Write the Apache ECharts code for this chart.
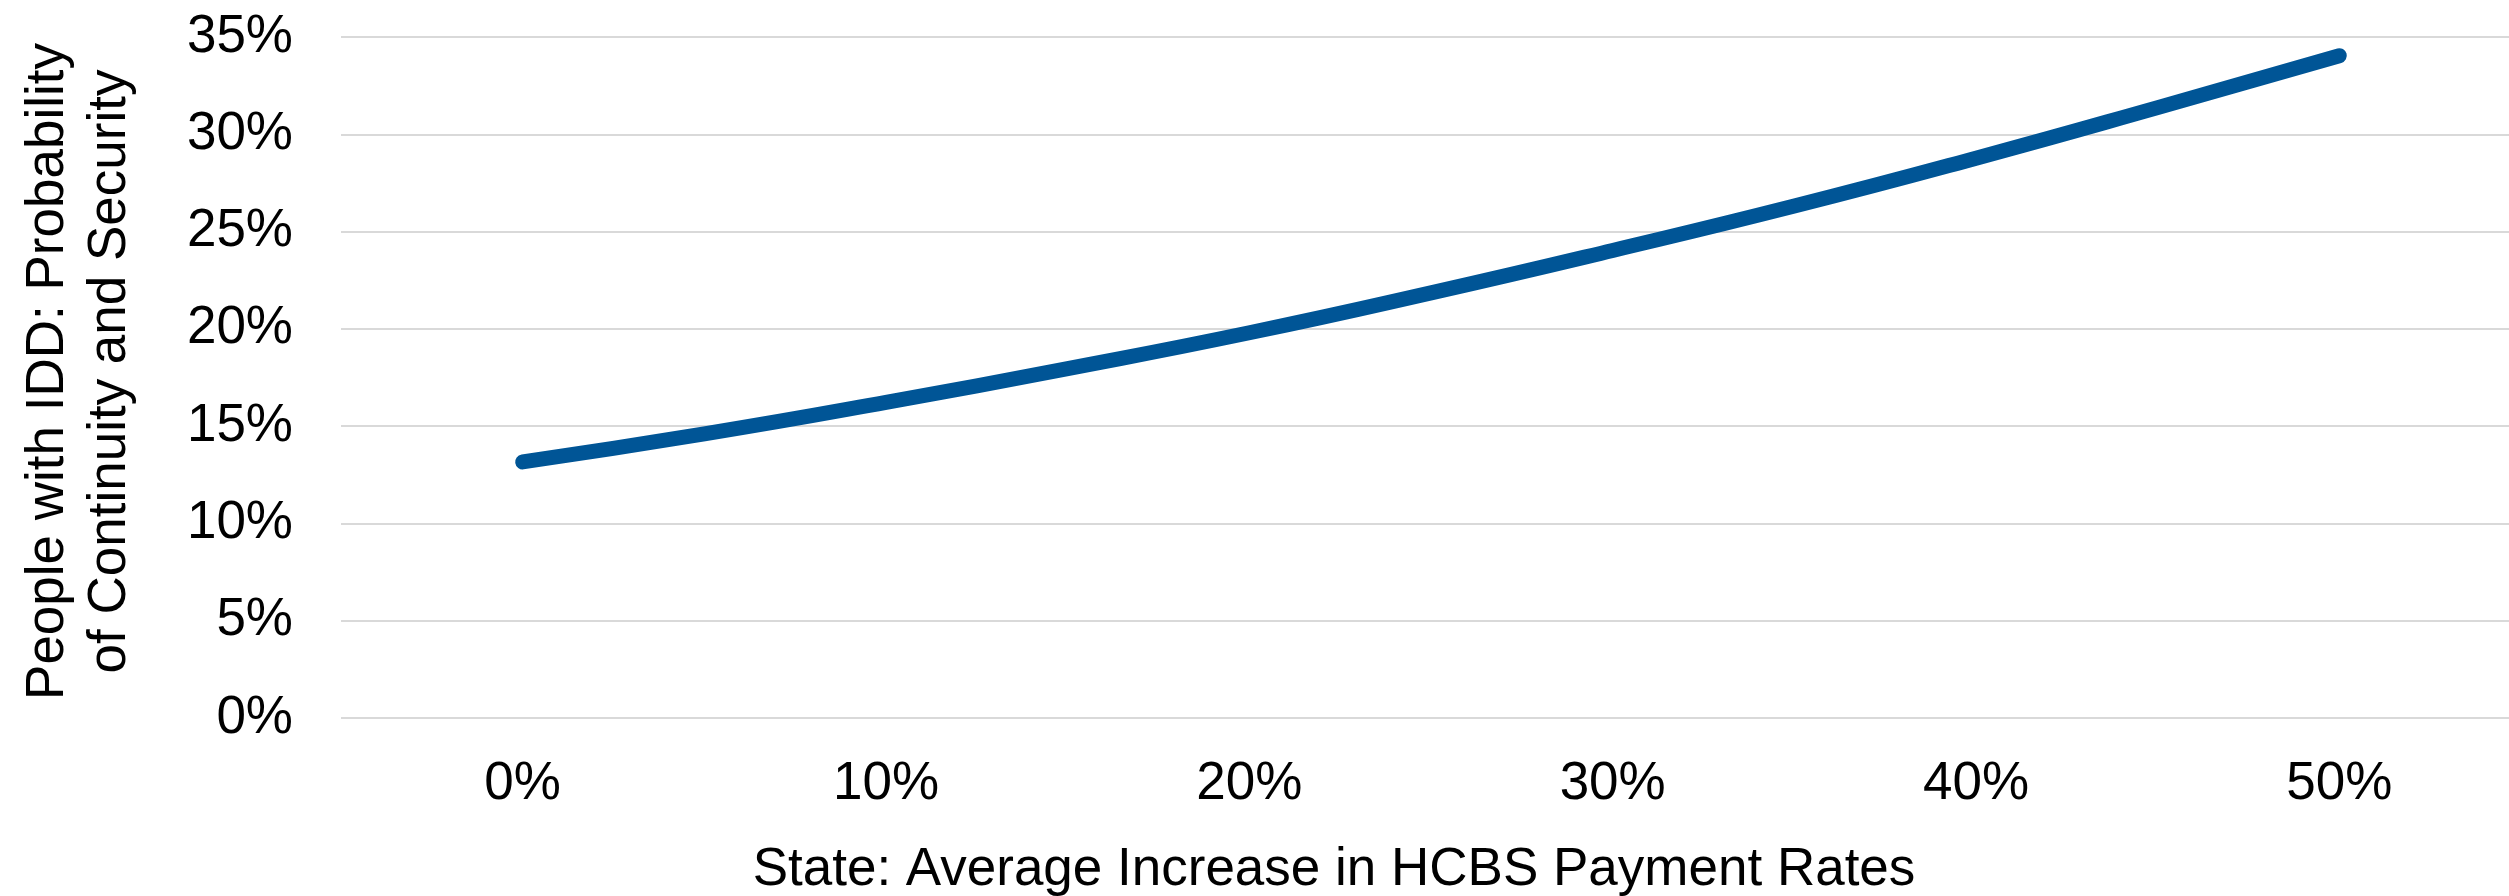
<!DOCTYPE html>
<html>
<head>
<meta charset="utf-8">
<script src="https://cdn.jsdelivr.net/npm/echarts@6/dist/echarts.min.js"></script>
<style>
html, body { margin: 0; padding: 0; background: #ffffff; }
#chart { width: 2509px; height: 896px; }
</style>
</head>
<body>
<div id="chart"></div>
<script>
// Data
const rateIncrease = [0, 5, 10, 15, 20, 25, 30, 35, 40, 45, 50];          // % increase in HCBS payment rates
const probability  = [13.16, 14.6, 16.22, 17.96, 19.8, 21.85, 24.03, 26.31, 28.77, 31.37, 34.04]; // % probability
const xTickLabels  = ['0%', '10%', '20%', '30%', '40%', '50%'];
const yTickLabels  = ['0%', '5%', '10%', '15%', '20%', '25%', '30%', '35%'];
const xTitle = 'State: Average Increase in HCBS Payment Rates';
const yTitle = 'People with IDD: Probability\nof Continuity and Security';

const FONT = '"Liberation Sans", Arial, sans-serif';
const chart = echarts.init(document.getElementById('chart'), null, { renderer: 'canvas' });

chart.setOption({
  backgroundColor: '#ffffff',
  animation: false,
  grid: { left: 341, width: 2180, top: 37, bottom: 178, containLabel: false, outerBoundsMode: 'none' },
  xAxis: {
    type: 'value',
    min: -5, max: 55, interval: 5,
    axisLine: { show: false },
    axisTick: { show: false },
    splitLine: { show: false },
    axisLabel: {
      fontFamily: FONT, fontSize: 53, color: '#000', margin: 40,
      formatter: function (v) {
        const i = xTickLabels.indexOf(Math.round(v) + '%');
        return (v >= 0 && Math.round(v) % 10 === 0 && i >= 0) ? xTickLabels[i] : '';
      }
    },
    name: xTitle,
    nameLocation: 'middle',
    nameGap: 126,
    nameTextStyle: { fontFamily: FONT, fontSize: 53, color: '#000', padding: [0, 194, 0, 0] }
  },
  yAxis: {
    type: 'value',
    min: 0, max: 35, interval: 5,
    axisLine: { show: false },
    axisTick: { show: false },
    splitLine: { show: true, lineStyle: { color: '#d9d9d9', width: 2 } },
    axisLabel: {
      fontFamily: FONT, fontSize: 53, color: '#000', margin: 48,
      formatter: function (v) { return yTickLabels[Math.round(v / 5)]; }
    },
    name: yTitle,
    nameLocation: 'middle',
    nameRotate: 90,
    nameGap: 200,
    nameTextStyle: { fontFamily: FONT, fontSize: 53, color: '#000', lineHeight: 62, align: 'center', padding: [0, 0, 0, 12] }
  },
  series: [{
    type: 'line',
    data: rateIncrease.map((x, i) => [x, probability[i]]),
    smooth: true,
    showSymbol: false,
    lineStyle: { color: '#005596', width: 15, cap: 'round', join: 'round' },
    itemStyle: { color: '#005596' }
  }]
});
</script>
</body>
</html>
